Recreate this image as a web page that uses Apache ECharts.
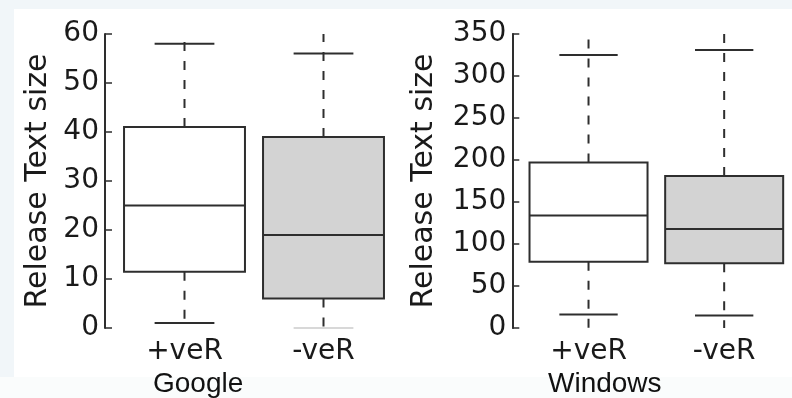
<!DOCTYPE html>
<html>
<head>
<meta charset="utf-8">
<script src="https://cdn.jsdelivr.net/npm/echarts@6/dist/echarts.min.js"></script>
<style>
html,body{margin:0;padding:0;background:#fafcfc;}
#c{width:792px;height:398px;}
</style>
</head>
<body>
<div id="c"></div>
<script>
// ---- data ----
const categories = ['+veR', '-veR'];
const panelNames = ['Google', 'Windows'];
const yTitle = 'Release Text size';
// Google panel
const googleLowCap = [1, 0];
const googleQ1 = [11.5, 6];
const googleMedian = [25, 19];
const googleQ3 = [41, 39];
const googleHighCap = [58, 56];
const googleLineLow = [0, 0];
const googleLineHigh = [60, 60];
const googleTicks = [0, 10, 20, 30, 40, 50, 60];
// Windows panel
const windowsLowCap = [16, 15];
const windowsQ1 = [79, 77];
const windowsMedian = [134, 118];
const windowsQ3 = [197, 181];
const windowsHighCap = [325, 331];
const windowsLineLow = [0, 0];
const windowsLineHigh = [350, 350];
const windowsTicks = [0, 50, 100, 150, 200, 250, 300, 350];

// ---- styles ----
const INK = '#2e2e2e';
const boxFills = ['#ffffff', '#d3d3d3'];
const FONT = 'DejaVu Sans';

function buildData(lo, q1, med, q3, hi, llo, lhi) {
  return categories.map((c, i) => [i, lo[i], q1[i], med[i], q3[i], hi[i], llo[i], lhi[i]]);
}

function makeRender(faintLowIdx) {
  return function (params, api) {
    const idx = api.value(0);
    const band = api.size([1, 0])[0];
    const half = band * 0.435;
    const capHalf = band * 0.215;
    const pLo = api.coord([idx, api.value(1)]);
    const pQ1 = api.coord([idx, api.value(2)]);
    const pMed = api.coord([idx, api.value(3)]);
    const pQ3 = api.coord([idx, api.value(4)]);
    const pHi = api.coord([idx, api.value(5)]);
    const pLLo = api.coord([idx, api.value(6)]);
    const pLHi = api.coord([idx, api.value(7)]);
    const x = pMed[0];
    const dashStyle = { stroke: INK, lineWidth: 2, lineDash: [9, 10], fill: null };
    const solid = { stroke: INK, lineWidth: 2, fill: null };
    const lowCapStyle = faintLowIdx === idx ? { stroke: '#d8d8d8', lineWidth: 2 } : solid;
    return {
      type: 'group',
      children: [
        { type: 'line', shape: { x1: x, y1: pQ3[1], x2: x, y2: pLHi[1] }, style: dashStyle },
        { type: 'line', shape: { x1: x, y1: pQ1[1], x2: x, y2: pLLo[1] }, style: dashStyle },
        { type: 'line', shape: { x1: x - capHalf, y1: pHi[1], x2: x + capHalf, y2: pHi[1] }, style: solid },
        { type: 'line', shape: { x1: x - capHalf, y1: pLo[1], x2: x + capHalf, y2: pLo[1] }, style: lowCapStyle },
        { type: 'rect', shape: { x: x - half, y: pQ3[1], width: half * 2, height: pQ1[1] - pQ3[1] },
          style: { fill: boxFills[idx], stroke: INK, lineWidth: 2 } },
        { type: 'line', shape: { x1: x - half, y1: pMed[1], x2: x + half, y2: pMed[1] }, style: solid }
      ]
    };
  };
}

function yAxisOpt(gridIndex, ticks, offset, gap) {
  const step = ticks[1] - ticks[0];
  return {
    type: 'value', gridIndex: gridIndex,
    min: ticks[0], max: ticks[ticks.length - 1], interval: step,
    offset: offset,
    name: yTitle, nameLocation: 'middle', nameGap: gap, nameRotate: 90,
    nameTextStyle: { fontFamily: FONT, fontSize: 30, color: '#1a1a1a' },
    axisLine: { show: true, lineStyle: { color: INK, width: 2 } },
    axisTick: { show: true, inside: true, length: 7, lineStyle: { color: INK, width: 1.5 } },
    axisLabel: { fontFamily: FONT, fontSize: 28, color: '#1a1a1a', margin: 6 },
    splitLine: { show: false }
  };
}

function xAxisOpt(gridIndex) {
  return {
    type: 'category', gridIndex: gridIndex, data: categories, boundaryGap: true,
    axisLine: { show: false }, axisTick: { show: false },
    axisLabel: { fontFamily: FONT, fontSize: 28, color: '#1a1a1a', margin: 10 },
    splitLine: { show: false }
  };
}

const chart = echarts.init(document.getElementById('c'), null, { renderer: 'canvas' });
chart.setOption({
  backgroundColor: '#fafcfc',
  animation: false,
  graphic: [
    { type: 'rect', z: -10, shape: { x: 0, y: 0, width: 792, height: 9 }, style: { fill: '#f1f6f9' } },
    { type: 'rect', z: -10, shape: { x: 0, y: 9, width: 14, height: 368 }, style: { fill: '#f1f6f9' } },
    { type: 'rect', z: -10, shape: { x: 14, y: 9, width: 778, height: 368 }, style: { fill: '#ffffff' } },
    { type: 'text', left: 153, top: 370, style: { text: panelNames[0], font: '28px "Liberation Sans"', fill: '#111' } },
    { type: 'text', left: 548, top: 370, style: { text: panelNames[1], font: '28px "Liberation Sans"', fill: '#111' } }
  ],
  grid: [
    { left: 115, top: 34, width: 278, height: 294 },
    { left: 520.7, top: 34, width: 279.4, height: 294 }
  ],
  xAxis: [xAxisOpt(0), xAxisOpt(1)],
  yAxis: [yAxisOpt(0, googleTicks, 10, 52), yAxisOpt(1, windowsTicks, 8.4, 73)],
  series: [
    {
      type: 'custom', xAxisIndex: 0, yAxisIndex: 0,
      renderItem: makeRender(1),
      data: buildData(googleLowCap, googleQ1, googleMedian, googleQ3, googleHighCap, googleLineLow, googleLineHigh)
    },
    {
      type: 'custom', xAxisIndex: 1, yAxisIndex: 1,
      renderItem: makeRender(-1),
      data: buildData(windowsLowCap, windowsQ1, windowsMedian, windowsQ3, windowsHighCap, windowsLineLow, windowsLineHigh)
    }
  ]
});
</script>
</body>
</html>
